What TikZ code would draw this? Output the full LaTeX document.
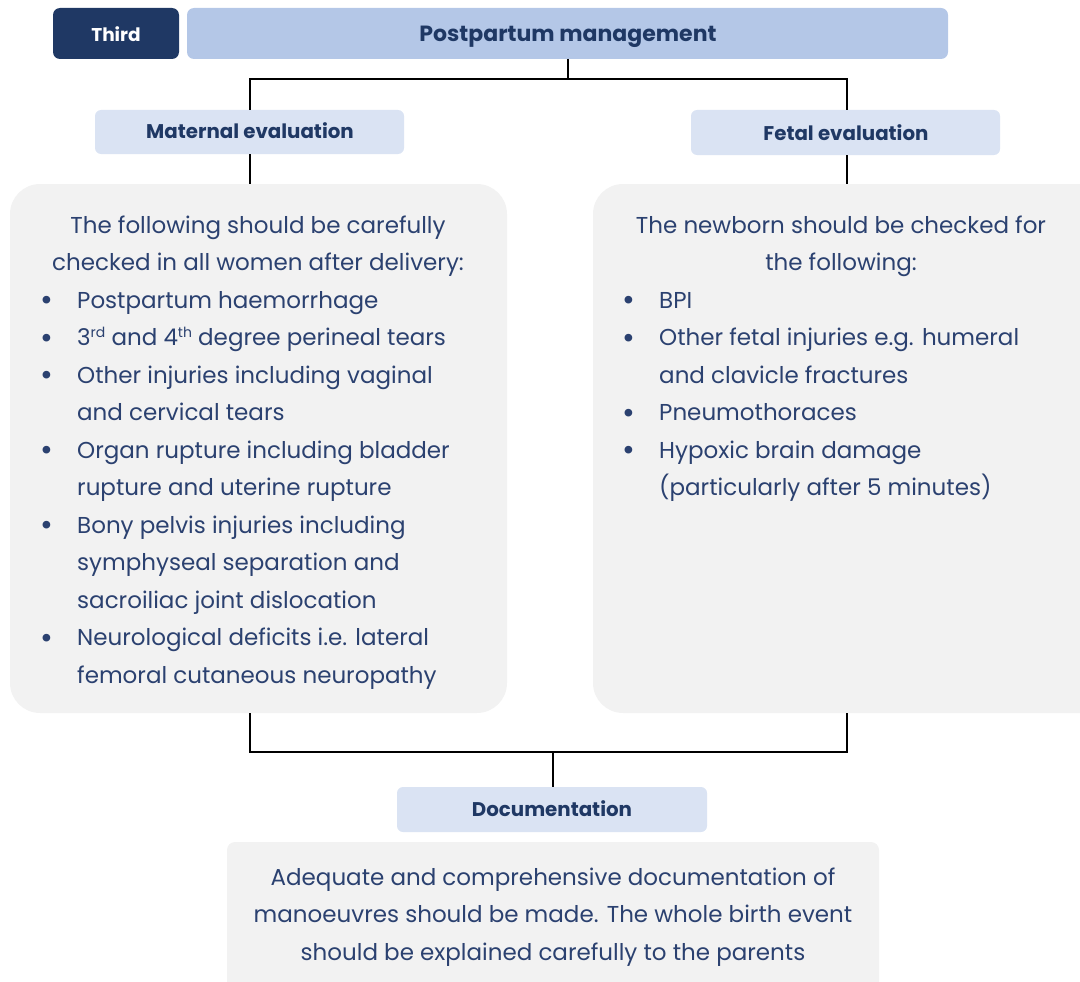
\documentclass[tikz,border=0pt]{standalone}
\usepackage{fontspec}
\setmainfont{Poppins}
\definecolor{navy}{HTML}{1F3864}
\definecolor{hdr}{HTML}{B4C7E7}
\definecolor{sub}{HTML}{DAE3F3}
\definecolor{panel}{HTML}{F2F2F2}
\definecolor{txt}{HTML}{2B4170}
\newcommand{\bul}{\makebox[0pt][r]{\makebox[37pt][l]{\raisebox{-2.5pt}{\scalebox{1.35}{\textbullet}}}}}
\newcommand{\sups}[1]{\raisebox{0.6ex}{\fontsize{14}{14}\selectfont #1}}
\begin{document}
\begin{tikzpicture}[x=1pt,y=-1pt,
  hbox/.style={fill=hdr,rounded corners=7pt},
  sbox/.style={fill=sub,rounded corners=6pt},
  pbox/.style={fill=panel,rounded corners=30pt},
  htext/.style={font=\bfseries\fontsize{19.8}{22}\selectfont,text=navy,anchor=base,inner sep=0pt},
  body/.style={font=\fontsize{23}{37.5}\selectfont,text=txt,inner sep=0pt},
  conn/.style={line width=1.6pt,black}]
\useasboundingbox (0,0) rectangle (1080,982);
% top
\path[fill=navy,rounded corners=7pt] (53,8) rectangle (179,59);
\node[htext,text=white,font=\bfseries\fontsize{18.5}{22}\selectfont] (third) at (116,42) {Third};
\path[hbox] (187,8) rectangle (948,59);
\node[htext,font=\bfseries\fontsize{22}{24}\selectfont] (pm) at (568,42) {Postpartum management};
\coordinate (pmb) at (568,59);
% sub headers
\path[sbox] (95,110) rectangle (404,154);
\node[htext] (mat) at (250,139) {Maternal evaluation};
\path[sbox] (691,110) rectangle (1000,155);
\node[htext] (fet) at (846,140) {Fetal evaluation};
\coordinate (matT) at (250,110);
\coordinate (matB) at (250,154);
\coordinate (fetT) at (847,110);
\coordinate (fetB) at (847,155);
% panels
\path[pbox] (10,184) rectangle (507,713);
\path[pbox] (593,184) rectangle (1110,713);
\coordinate (lpT) at (250,184);
\coordinate (rpT) at (847,184);
\coordinate (lpB) at (250,713);
\coordinate (rpB) at (847,713);
% top connectors
\draw[conn] (pmb) -- (568,79);
\draw[conn] (matT) -- (250,79) -- (847,79) -- (fetT);
\draw[conn] (matB) -- (lpT);
\draw[conn] (fetB) -- (rpT);
% left panel text
\node[body,align=center,anchor=base] (lhead) at (258,270.5) {The following should be carefully\\checked in all women after delivery:};
\node[body,align=left,anchor=base west] (llist) at (77,683) {\bul Postpartum haemorrhage\\
\bul 3\sups{rd} and 4\sups{th} degree perineal tears\\
\bul Other injuries including vaginal\\
and cervical tears\\
\bul Organ rupture including bladder\\
rupture and uterine rupture\\
\bul Bony pelvis injuries including\\
symphyseal separation and\\
sacroiliac joint dislocation\\
\bul Neurological deficits i.e. lateral\\
femoral cutaneous neuropathy};
% right panel text
\node[body,align=center,anchor=base] (rhead) at (841,270.5) {The newborn should be checked for\\the following:};
\node[body,align=left,anchor=base west] (rlist) at (659,495.5) {\bul BPI\\
\bul Other fetal injuries e.g. humeral\\
and clavicle fractures\\
\bul Pneumothoraces\\
\bul Hypoxic brain damage\\
(particularly after 5 minutes)};
% bottom connectors
\coordinate (joinL) at (250,752);
\coordinate (joinR) at (847,752);
\coordinate (joinM) at (553,752);
\draw[conn] (lpB) -- (joinL) -- (joinR) -- (rpB);
\path[sbox] (397,787) rectangle (707,832);
\node[htext] (doc) at (552,816) {Documentation};
\draw[conn] (joinM) -- (553,787);
\path[fill=panel,rounded corners=8pt] (227,842) rectangle (879,1000);
\node[body,align=center,anchor=base] (dtext) at (553,960) {Adequate and comprehensive documentation of\\manoeuvres should be made. The whole birth event\\should be explained carefully to the parents};
\end{tikzpicture}
\end{document}
